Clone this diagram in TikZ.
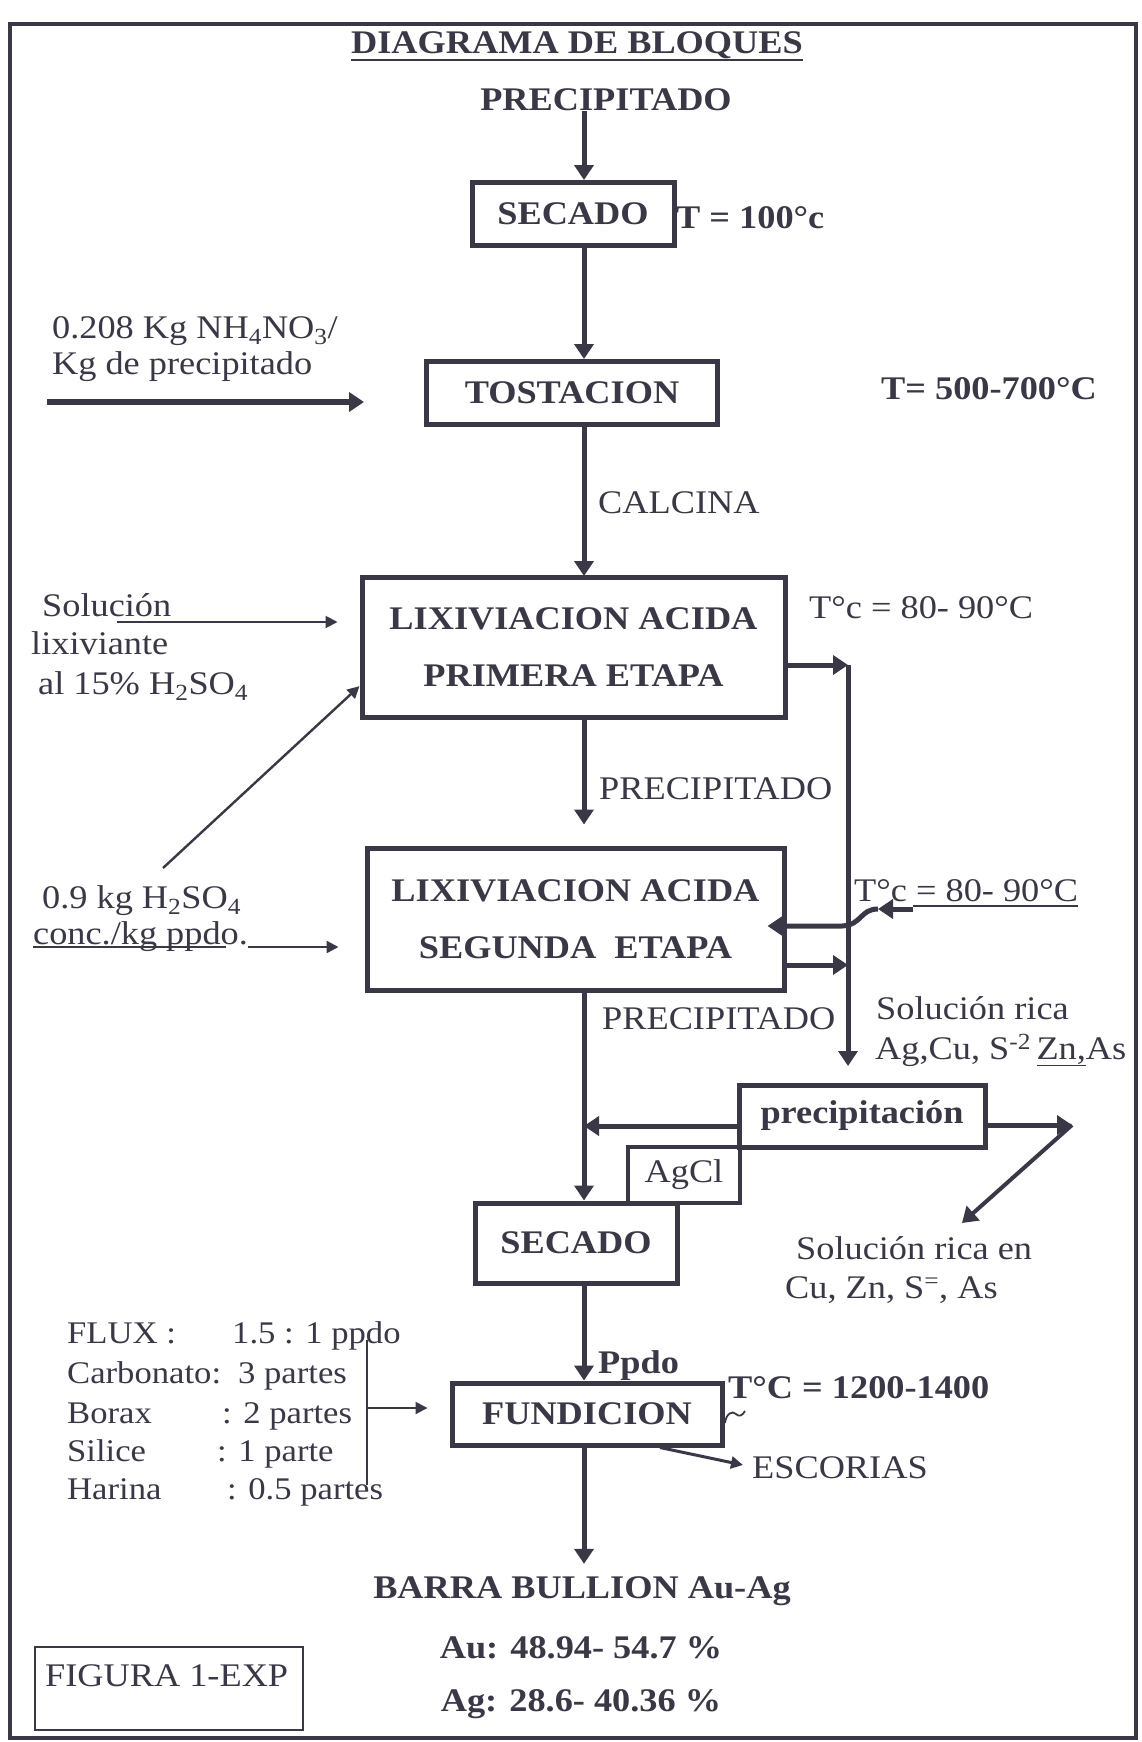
\documentclass[tikz,border=0pt]{standalone}
\usepackage{fontspec}
\setmainfont{Liberation Serif}[FakeStretch=1.1]
\usepackage{tikz}
\usetikzlibrary{arrows.meta,calc}
\definecolor{Ink}{HTML}{3A3846}
\newcommand{\diagfont}{\fontsize{33}{38}\selectfont}
\newcommand{\fluxfont}{\fontsize{31.5}{38}\selectfont}

\tikzset{
  txt/.style={text=Ink, font=\diagfont, inner sep=0pt, text height=22pt, text depth=0pt},
  btxt/.style={txt, font=\diagfont\bfseries},
  block/.style={draw=Ink, line width=5pt, text=Ink, font=\diagfont\bfseries, inner sep=0pt, align=center},
  flow/.style={draw=Ink, line width=5pt, -{Triangle[length=15pt,width=19pt]}},
  feed/.style={draw=Ink, line width=2.4pt, -{Triangle[length=12pt,width=12pt]}},
}

\begin{document}
\begin{tikzpicture}[x=1pt, y=-1pt]
  \useasboundingbox (0,0) rectangle (1142,1742);
  \fill[white] (0,0) rectangle (1142,1742);
  \draw[line width=4pt, Ink] (10,24) rectangle (1136,1738);
  \coordinate (axis) at (584,0);

  % ===== TITLE =====
  \node[btxt] (title) at (577,43) {DIAGRAMA DE BLOQUES};
  \draw[Ink, line width=1.6pt] ([yshift=-6pt]title.base west) -- ([yshift=-6pt]title.base east);
  \node[btxt] (prec0) at (606,100) {PRECIPITADO};

  % ===== SECADO / TOSTACION =====
  \node[block, minimum width=202pt, minimum height=63pt] (sec1) at (573,214) {SECADO};
  \node[btxt, anchor=west] (t100) at (676,217) {T = 100°c};
  \node[block, minimum width=291pt, minimum height=63pt] (tost) at (572,393) {TOSTACION};
  \node[btxt, anchor=west] (t500) at (881,388) {T= 500-700°C};

  \node[txt, anchor=west] (nh4a) at (52,327) {0.208 Kg NH\textsubscript{4}NO\textsubscript{3}/};
  \node[txt, anchor=west] (nh4b) at (52,363) {Kg de precipitado};
  \coordinate (nhA) at (47,402);
  \coordinate (nhB) at (364,402);
  \draw[flow, line width=6pt] (nhA) -- (nhB);

  \draw[flow] (axis |- prec0.south) -- (axis |- sec1.north);
  \draw[flow] (axis |- sec1.south) -- (axis |- tost.north);
  \draw[flow] (axis |- tost.south) -- (axis |- 0,576);
  \node[txt, anchor=west] (calc) at (598,502) {CALCINA};

  % ===== LIXIVIACION 1 =====
  \node[block, minimum width=423pt, minimum height=140pt] (lix1) at (573.5,647)
        {LIXIVIACION ACIDA\\[19pt]PRIMERA ETAPA};
  \node[txt, anchor=west] (tc1) at (809,607) {T°c = 80- 90°C};

  \node[txt, anchor=west] (sol1) at (42,605) {Solución};
  \node[txt, anchor=west] (sol2) at (31,643) {lixiviante};
  \node[txt, anchor=west] (sol3) at (38,683) {al 15\% H\textsubscript{2}SO\textsubscript{4}};
  \coordinate (solA) at (117,622);
  \draw[feed, line width=2pt, shorten >=22pt] (solA) -- (solA -| lix1.west);

  \node[txt, anchor=west] (acid1) at (42,897) {0.9 kg H\textsubscript{2}SO\textsubscript{4}};
  \node[txt, anchor=west] (acid2) at (33,933) {conc./kg ppdo.};
  \draw[Ink, line width=1.6pt] ([yshift=-3pt]acid2.base west) -- ([xshift=-22pt,yshift=-3pt]acid2.base east);
  \coordinate (diagA) at (163,868);
  \draw[feed] (diagA) -- ($(lix1.south west)!0.23!(lix1.north west)$);

  % ===== LIXIVIACION 2 =====
  \node[block, minimum width=417pt, minimum height=142pt] (lix2) at (575.5,919)
        {LIXIVIACION ACIDA\\[19pt]SEGUNDA\ \ ETAPA};
  \draw[flow, shorten >=21pt] (axis |- lix1.south) -- (axis |- lix2.north);
  \node[txt, anchor=west] (prec1) at (599,788) {PRECIPITADO};
  \draw[feed, shorten >=26pt] ([yshift=-3pt]acid2.base east) -- ([yshift=-3pt]acid2.base east -| lix2.west);

  % solucion rica (right hand side)
  \coordinate (rtop) at (848,665);
  \coordinate (rmid) at (848,965);
  \coordinate (rbot) at (848,1066);
  \draw[flow] (lix1.east |- rtop) -- (rtop);
  \draw[flow] (lix2.east |- rmid) -- (rmid);
  \draw[draw=Ink, line width=5pt] (rtop) -- (rmid);
  \draw[flow] (rmid) -- (rbot);

  \node[txt, anchor=west] (tc2) at (854,890) {T°c = 80- 90°C};
  \draw[Ink, line width=1.6pt] (913,906) -- ([yshift=-5pt]tc2.base east);
  \coordinate (retin) at (913,909);
  \coordinate (hop) at (878,909);
  \draw[flow] (retin) -- (hop);
  \draw[flow] (hop) .. controls (860,909) and (862,925) .. (842,926)
        -- ($(lix2.east)+(-19,7)$);

  \node[txt, anchor=west] (prec2) at (602,1018) {PRECIPITADO};
  \node[txt, anchor=west] (rica1) at (876,1008) {Solución rica};
  \node[txt, anchor=west] (rica2) at (875,1048) {Ag,Cu, S\textsuperscript{-2}\,\underline{Zn,}As};

  % ===== PRECIPITACION / AgCl =====
  \node[block, minimum width=246pt, minimum height=62pt] (precip) at (862,1116) {precipitación};
  \node[draw=Ink, line width=4pt, text=Ink, font=\diagfont, inner sep=0pt,
        minimum width=112pt, minimum height=56pt] (agcl) at (684,1175) {AgCl};
  \coordinate (agin) at ([yshift=-10pt]precip.west);
  \draw[flow] (agin) -- (axis |- agin);
  \coordinate (pout) at (1072,1125);
  \coordinate (solout) at (962,1223);
  \draw[flow] (precip.east |- pout) -- (pout);
  \draw[flow, line width=4pt] (pout) -- (solout);
  \node[txt, anchor=west] (pobre1) at (796,1248) {Solución rica en};
  \node[txt, anchor=west] (pobre2) at (785,1287) {Cu, Zn, S\textsuperscript{=}, As};

  % ===== SECADO / FUNDICION =====
  \node[block, minimum width=202pt, minimum height=80pt] (sec2) at (576,1243) {SECADO};
  \draw[flow] (axis |- lix2.south) -- (axis |- sec2.north);
  \node[block, minimum width=270pt, minimum height=62pt] (fund) at (587,1414) {FUNDICION};
  \draw[flow] (axis |- sec2.south) -- (axis |- fund.north);
  \node[btxt, anchor=west] (ppdo) at (598,1362) {Ppdo};
  \node[btxt, anchor=west] (t1200) at (728,1387) {T°C = 1200-1400};
  \draw[Ink, line width=1.8pt] (725,1423) .. controls (726,1414) and (732,1410) .. (736,1414)
        .. controls (739,1417) and (742,1416) .. (745,1411);
  \node[txt, anchor=west] (escor) at (752,1467) {ESCORIAS};
  \draw[feed, line width=3pt] ([xshift=73pt]fund.south) -- ([xshift=-9pt,yshift=2pt]escor.west);

  % flux
  \foreach \yy/\xb/\ta/\tb in {1332/232/FLUX :/1.5 : 1 ppdo, 1372/238/Carbonato:/3 partes,
      1412/222/Borax/: 2 partes, 1450/217/Silice/: 1 parte, 1488/227/Harina/: 0.5 partes}{
    \node[txt, anchor=west, font=\fluxfont] (fa\yy) at (67,\yy) {\ta};
    \node[txt, anchor=west, font=\fluxfont] (fb\yy) at (\xb,\yy) {\tb};
  }
  \coordinate (fxtop) at (367,1340);
  \coordinate (fxbot) at (367,1485);
  \coordinate (fxmid) at (367,1408);
  \draw[Ink, line width=2pt] (fxtop) -- (fxbot);
  \draw[feed, line width=2pt, shorten >=22pt] (fxmid) -- (fxmid -| fund.west);

  % ===== PRODUCTO =====
  \node[btxt] (barra) at (582,1587) {BARRA BULLION Au-Ag};
  \draw[flow, shorten >=12pt] (axis |- fund.south) -- (axis |- barra.north);
  \node[btxt] (au) at (581,1647) {Au: 48.94- 54.7 \%};
  \node[btxt] (ag) at (581,1700) {Ag: 28.6- 40.36 \%};

  \node[draw=Ink, line width=2.2pt, minimum width=268pt, minimum height=83pt, inner sep=0pt] (figbox) at (169,1688.5) {};
  \node[txt, anchor=west] (fig) at (45,1675) {FIGURA 1-EXP};
\end{tikzpicture}
\end{document}
